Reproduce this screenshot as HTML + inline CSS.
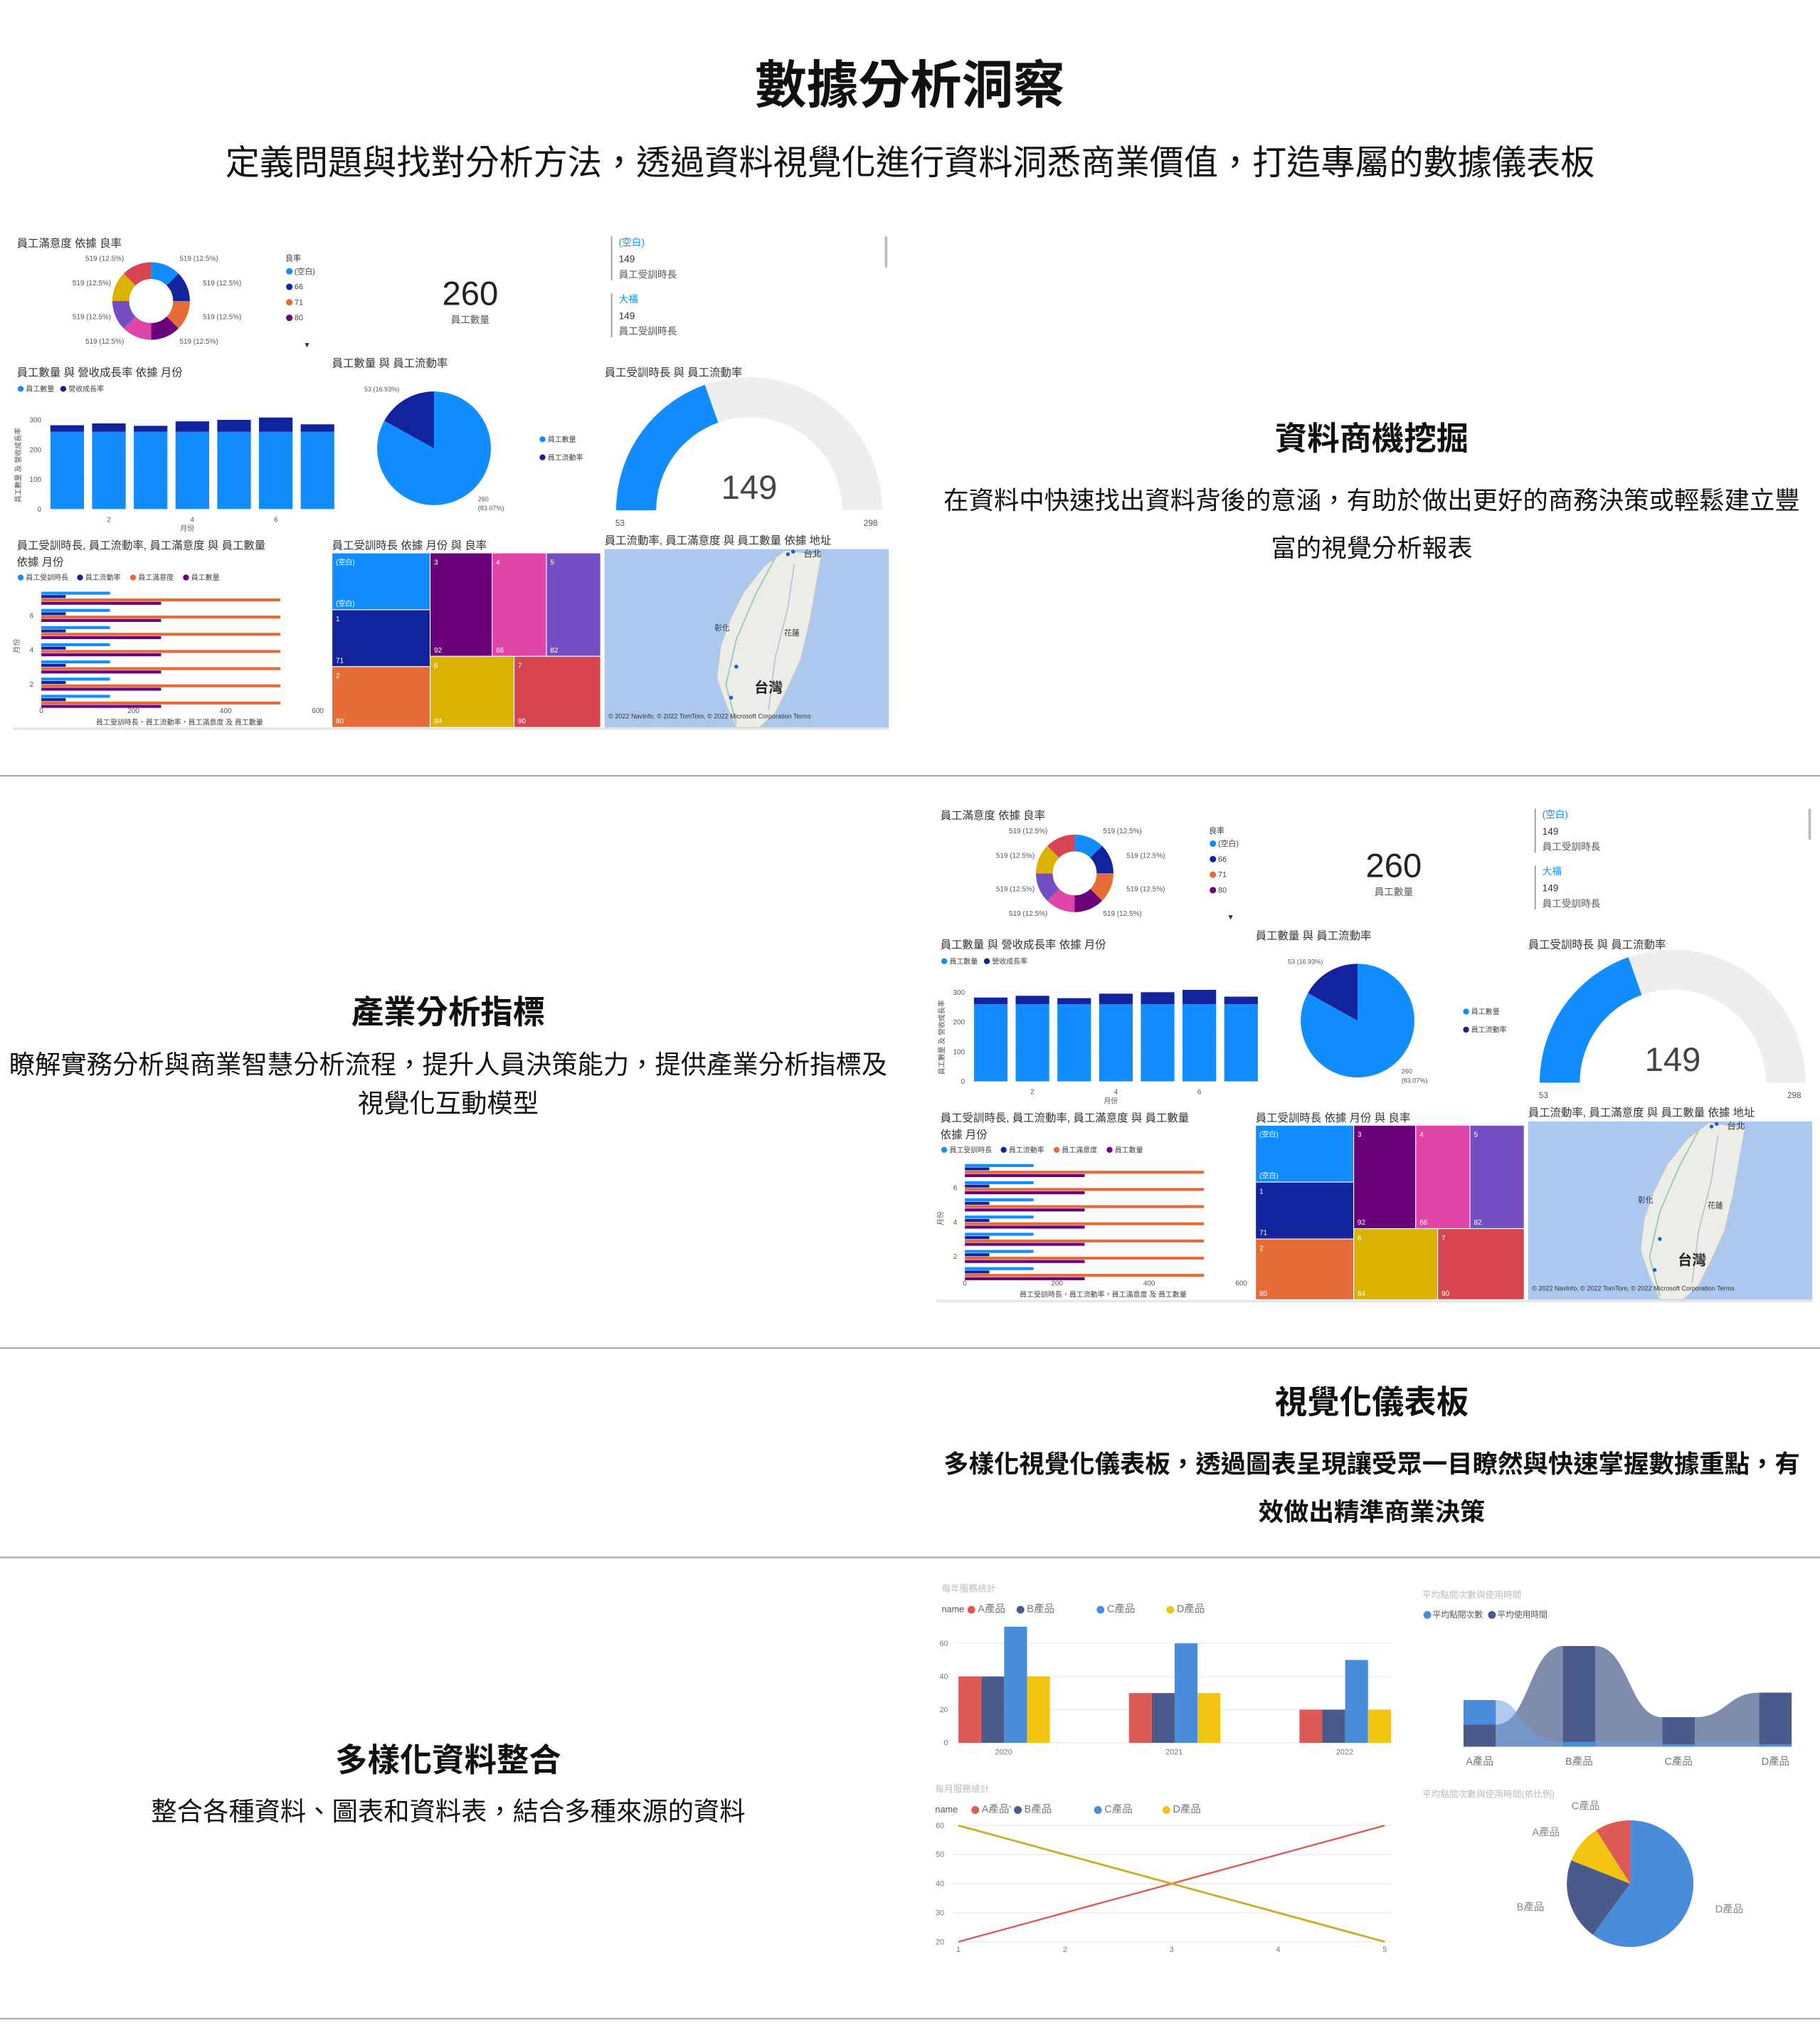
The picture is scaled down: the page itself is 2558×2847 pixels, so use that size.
<!DOCTYPE html>
<html><head><meta charset="utf-8">
<style>
html,body{margin:0;padding:0;background:#fff;overflow:hidden}
body{width:2558px;height:2847px}
#wrap{position:absolute;left:0;top:0;width:1409px;height:1568px;transform:scale(1.81547);transform-origin:0 0;font-family:"Liberation Sans","Noto Sans CJK TC",sans-serif;color:#111}
.t{position:absolute;text-align:center;white-space:nowrap}
.hr{position:absolute;left:0;width:1409px;height:1px;background:#999}
svg text{font-family:"Liberation Sans","Noto Sans CJK TC",sans-serif}
</style></head><body>
<div id="wrap">
<div class="t" style="left:0;width:1409px;top:34px;font-size:40px;font-weight:bold">數據分析洞察</div>
<div class="t" style="left:0;width:1409px;top:104px;font-size:26.5px">定義問題與找對分析方法，透過資料視覺化進行資料洞悉商業價值，打造專屬的數據儀表板</div>

<div class="t" style="left:715px;width:694px;top:320px;font-size:25px;font-weight:bold">資料商機挖掘</div>
<div class="t" style="left:724px;width:676px;top:370px;font-size:19.5px;line-height:37px;white-space:normal">在資料中快速找出資料背後的意涵，有助於做出更好的商務決策或輕鬆建立豐富的視覺分析報表</div>
<div class="hr" style="top:600px"></div>

<div class="t" style="left:0;width:694px;top:764px;font-size:25px;font-weight:bold">產業分析指標</div>
<div class="t" style="left:4px;width:686px;top:810px;font-size:20px;line-height:30px;white-space:normal">瞭解實務分析與商業智慧分析流程，提升人員決策能力，提供產業分析指標及視覺化互動模型</div>
<div class="hr" style="top:1043px"></div>

<div class="t" style="left:715px;width:694px;top:1066px;font-size:25px;font-weight:bold">視覺化儀表板</div>
<div class="t" style="left:724px;width:676px;top:1116px;font-size:19.5px;line-height:37px;font-weight:bold;white-space:normal">多樣化視覺化儀表板，透過圖表呈現讓受眾一目瞭然與快速掌握數據重點，有效做出精準商業決策</div>
<div class="hr" style="top:1205px"></div>

<div class="t" style="left:0;width:694px;top:1343px;font-size:25px;font-weight:bold">多樣化資料整合</div>
<div class="t" style="left:0;width:694px;top:1386px;font-size:20px">整合各種資料、圖表和資料表，結合多種來源的資料</div>
<div class="hr" style="top:1562px"></div>

<svg id="sv" width="1409" height="1568" style="position:absolute;left:0;top:0"></svg>
</div>
<script>
// ---- dashboard data ----
const donutLabels = ["(空白)","66","71","80"];
const donutValues = [519,519,519,519,519,519,519,519];
const barMonths = [1,2,3,4,5,6,7];
const barEmployees = [260,260,260,260,260,260,260];
const barGrowth = [22,28,20,35,40,48,25];
const pieValues = [260,53];
const gaugeMin = 53, gaugeMax = 298, gaugeValue = 149;
const hbarTraining = [149,149,149,149,149,149,149];
const hbarTurnover = [53,53,53,53,53,53,53];
const hbarSatisfaction = [519,519,519,519,519,519,519];
const hbarCount = [260,260,260,260,260,260,260];
const hbarTicks = [0,200,400,600];
// ---- bottom charts data ----
const years = ["2020","2021","2022"];
const prodA = [40,30,20], prodB = [40,30,20], prodC = [70,60,50], prodD = [40,30,20];
const barTicks = [0,20,40,60];
const lineX = [1,2,3,4,5];
const lineA = [20,30,40,50,60];
const lineD = [60,50,40,30,20];
const lineTicks = [20,30,40,50,60];
const sankeyCats = ["A產品","B產品","C產品","D產品"];
const sankeyClicks = [10,2,1,1];
const sankeyTime = [9,41,12,22];
const pieCats = ["D產品","B產品","A產品","C產品"];
const pieShares = [60,21,10,9];

const NS="http://www.w3.org/2000/svg";
const sv=document.getElementById('sv');
function el(tag,a,p){const e=document.createElementNS(NS,tag);for(const k in a)e.setAttribute(k,a[k]);(p||sv).appendChild(e);return e;}
function tx(p,x,y,s,size,fill,anchor,weight){const e=el('text',{x:x,y:y,'font-size':size,fill:fill||'#333','text-anchor':anchor||'start','font-weight':weight||'normal'},p);e.textContent=s;return e;}
function arcPath(cx,cy,ro,ri,a0,a1){
 const r=d=>(d-90)*Math.PI/180;const p=(R,d)=>[cx+R*Math.cos(r(d)),cy+R*Math.sin(r(d))];
 const lg=(a1-a0)>180?1:0;const A=p(ro,a0),B=p(ro,a1);
 if(ri<=0){return `M${cx},${cy}L${A[0]},${A[1]}A${ro},${ro} 0 ${lg} 1 ${B[0]},${B[1]}Z`;}
 const C=p(ri,a1),D=p(ri,a0);
 return `M${A[0]},${A[1]}A${ro},${ro} 0 ${lg} 1 ${B[0]},${B[1]}L${C[0]},${C[1]}A${ri},${ri} 0 ${lg} 0 ${D[0]},${D[1]}Z`;}

function dashboard(ox,oy,idx){
 const g=el('g',{transform:`translate(${ox},${oy})`});
 
 
 tx(g,3,11,"員工滿意度 依據 良率",8.5,'#333');
 const dcol=["#118dff","#12239e","#e66c37","#6b007b","#e044a7","#744ec2","#d9b300","#d64550"];
 const tot=donutValues.reduce((a,b)=>a+b,0);let a=0;
 donutValues.forEach((v,i)=>{const a1=a+v/tot*360;const s=el('path',{d:arcPath(107,53,30,17,a,a1),fill:dcol[i]},g);
  a=a1;});
 [[86,22,'end'],[129,22,'start'],[76,41,'end'],[147,41,'start'],[76,67,'end'],[147,67,'start'],[86,86,'end'],[129,86,'start']].forEach(p=>tx(g,p[0],p[1],"519 (12.5%)",5.5,'#555',p[2]));
 tx(g,211,22,"良率",6,'#333');
 const lc=["#118dff","#12239e","#e66c37","#6b007b"];
 donutLabels.forEach((l,i)=>{el('circle',{cx:214,cy:30+i*12,r:2.5,fill:lc[i]},g);tx(g,218,32+i*12,l,6,'#444');});
 tx(g,226,89,"▾",7,'#333');
 const k=tx(g,354,56,"260",26,'#222','middle');
 tx(g,354,70,"員工數量",7.5,'#555','middle');
 el('rect',{x:463,y:3,width:1,height:34,fill:'#999'},g);el('rect',{x:463,y:47,width:1,height:34,fill:'#999'},g);
 tx(g,469,10,"(空白)",7.5,'#118dff');tx(g,469,23,"149",7.5,'#333');tx(g,469,35,"員工受訓時長",7.5,'#555');
 tx(g,469,54,"大福",7.5,'#118dff');tx(g,469,67,"149",7.5,'#333');tx(g,469,79,"員工受訓時長",7.5,'#555');
 el('rect',{x:675,y:3,width:2,height:24,fill:'#bbb'},g);
 tx(g,3,111,"員工數量 與 營收成長率 依據 月份",8.5,'#333');
 el('circle',{cx:6,cy:121,r:2.3,fill:'#118dff'},g);tx(g,10,123,"員工數量",5.5,'#444');
 el('circle',{cx:39,cy:121,r:2.3,fill:'#12239e'},g);tx(g,43,123,"營收成長率",5.5,'#444');
 const y0=214,yk=23/100;const yc=v=>y0-v*yk;
 [0,100,200,300].forEach(t=>{tx(g,22,yc(t)+2,String(t),5.5,'#555','end');if(t>0)el('line',{x1:27,x2:244,y1:yc(t),y2:yc(t),stroke:'#eee','stroke-dasharray':'1,1'},g);});
 const tl=tx(g,6,180,"員工數量 及 營收成長率",5.5,'#555','middle');tl.setAttribute('transform','rotate(-90 6 180)');
 const bx=i=>29+i*32.3;
 barMonths.forEach((m,i)=>{const b1=el('rect',{x:bx(i),y:yc(barEmployees[i]),width:26,height:barEmployees[i]*yk,fill:'#118dff'},g);
  
  const b2=el('rect',{x:bx(i),y:yc(barEmployees[i]+barGrowth[i]),width:26,height:barGrowth[i]*yk,fill:'#12239e'},g);
  
  if(m%2==0)tx(g,bx(i)+13,224,String(m),5.5,'#555','middle');});
 tx(g,135,231,"月份",5.5,'#555','middle');
 tx(g,247,104,"員工數量 與 員工流動率",8.5,'#333');
 const ps=pieValues[0]+pieValues[1];const da=pieValues[1]/ps*360;
 el('path',{d:arcPath(326,167,44,0,0,360-da-0.001),fill:'#118dff'},g);
 el('path',{d:arcPath(326,167,44,0,360-da,359.999),fill:'#12239e'},g);
 tx(g,272,123,"53 (16.93%)",5,'#555');tx(g,360,208,"260",5,'#555');tx(g,360,215,"(83.07%)",5,'#555');
 el('circle',{cx:410,cy:160,r:2.3,fill:'#118dff'},g);tx(g,414,162,"員工數量",5.5,'#444');
 el('circle',{cx:410,cy:174,r:2.3,fill:'#12239e'},g);tx(g,414,176,"員工流動率",5.5,'#444');
 tx(g,458,111,"員工受訓時長 與 員工流動率",8.5,'#333');
 el('path',{d:arcPath(570,215,103,72,270,450),fill:'#eeeeee'},g);
 const ga=270+(gaugeValue-gaugeMin)/(gaugeMax-gaugeMin)*180;
 const gp=el('path',{d:arcPath(570,215,103,72,270,ga),fill:'#118dff'},g);
 tx(g,570,206,String(gaugeValue),26,'#444','middle');
 tx(g,470,227,String(gaugeMin),6.5,'#555','middle');tx(g,664,227,String(gaugeMax),6.5,'#555','middle');
 tx(g,3,245,"員工受訓時長, 員工流動率, 員工滿意度 與 員工數量",8.5,'#333');
 tx(g,3,258,"依據 月份",8.5,'#333');
 [["#118dff","員工受訓時長",3],["#12239e","員工流動率",49],["#e66c37","員工滿意度",90],["#6b007b","員工數量",131]].forEach(l=>{el('circle',{cx:l[2]+3,cy:267,r:2.3,fill:l[0]},g);tx(g,l[2]+7,269,l[1],5.5,'#444');});
 const hx=v=>22+v*(214/600);
 hbarTicks.forEach(t=>tx(g,hx(t),372,String(t),5.5,'#555','middle'));
 const series=[[hbarTraining,'#118dff'],[hbarTurnover,'#12239e'],[hbarSatisfaction,'#e66c37'],[hbarCount,'#6b007b']];
 for(let r=0;r<7;r++){series.forEach((s,j)=>{const b=el('rect',{x:hx(0),y:278+r*13.3+j*2.6,width:hx(s[0][r])-hx(0),height:2.3,fill:s[1]},g);
  });}
 [[6,1],[4,3],[2,5]].forEach(p=>tx(g,16,278+p[1]*13.3+7,String(p[0]),5.5,'#555','end'));
 const ml=tx(g,5,320,"月份",5.5,'#555','middle');ml.setAttribute('transform','rotate(-90 5 320)');
 tx(g,129,381,"員工受訓時長，員工流動率，員工滿意度 及 員工數量",5.5,'#444','middle');
 el('rect',{x:0,y:383,width:678,height:2,fill:'#e6e6e6'},g);
 tx(g,247,245,"員工受訓時長 依據 月份 與 良率",8.5,'#333');
 const tm=[[247,248,76,44,'#118dff','(空白)','(空白)'],[247,292,76,44,'#12239e','1','71'],[247,336,76,47,'#e66c37','2','80'],
  [323,248,48,80,'#6b007b','3','92'],[371,248,42,80,'#e044a7','4','66'],[413,248,42,80,'#744ec2','5','82'],
  [323,328,65,55,'#d9b300','6','84'],[388,328,67,55,'#d64550','7','90']];
 tm.forEach(c=>{const r=el('rect',{x:c[0],y:c[1],width:c[2],height:c[3],fill:c[4],stroke:'#fff','stroke-width':0.6},g);
  
  tx(g,c[0]+3,c[1]+9,c[5],5.5,'#fff');tx(g,c[0]+3,c[1]+c[3]-3,c[6],5.5,'#fff');});
 tx(g,458,241,"員工流動率, 員工滿意度 與 員工數量 依據 地址",8.5,'#333');
 const mp=el('rect',{x:458,y:245,width:220,height:138,fill:'#adc8ef'},g);
 el('path',{d:'M598,246 L626,250 L622,272 L617,300 L610,330 L600,352 L590,372 L578,383 L560,383 L552,365 L545,345 L548,320 L556,298 L566,278 L582,258 Z',fill:'#ecece8',stroke:'#c9c9c0','stroke-width':0.6},g);
 el('path',{d:'M590,252 L575,280 L560,315 L552,350 L560,380',fill:'none',stroke:'#9fc7a8','stroke-width':1},g);
 el('path',{d:'M605,256 L600,290 L590,330 L585,370',fill:'none',stroke:'#c8b0c8','stroke-width':0.8},g);
 tx(g,612,251,"台北",7,'#333');tx(g,543,308,"彰化",6,'#333');tx(g,597,312,"花蓮",6,'#333');
 tx(g,585,356,"台灣",11,'#222','middle','bold');
 [[604,247],[600,249],[560,336],[556,360]].forEach(p=>el('circle',{cx:p[0],cy:p[1],r:1.5,fill:'#1a5fd0'},g));
 tx(g,461,376,"© 2022 NavInfo, © 2022 TomTom, © 2022 Microsoft Corporation  Terms",5,'#333');
}
dashboard(10,180,1);
dashboard(725,623,2);

(function(){
 const g=el('g',{});
 tx(g,729,1232,"每年服務統計",7,'#bbb');
 tx(g,729,1248,"name",7,'#555');
 [["#dd5a56","A產品",752],["#4a5a8a","B產品",790],["#4a8cdc","C產品",852],["#f1c40f","D產品",906]].forEach(l=>{el('circle',{cx:l[2],cy:1246,r:3,fill:l[0]},g);tx(g,l[2]+5,1248,l[1],8,'#777');});
 const y=v=>1349-v*(77/60);
 barTicks.forEach(t=>{tx(g,734,y(t)+2,String(t),6,'#777','end');el('line',{x1:740,x2:1077,y1:y(t),y2:y(t),stroke:'#eee'},g);});
 const cols=['#dd5a56','#4a5a8a','#4a8cdc','#f1c40f'];const sers=[prodA,prodB,prodC,prodD];
 years.forEach((yr,i)=>{const gx=742+i*132;sers.forEach((s,j)=>{const b=el('rect',{x:gx+j*17.7,y:y(s[i]),width:17.7,height:1349-y(s[i]),fill:cols[j]},g);
  });
  tx(g,gx+35,1358,yr,6,'#777','middle');});
})();
(function(){
 const g=el('g',{});
 tx(g,1101,1237,"平均點閱次數與使用時間",7,'#bbb');
 el('circle',{cx:1105,cy:1250,r:3,fill:'#4a8cdc'},g);tx(g,1109,1252,"平均點閱次數",6.5,'#555');
 el('circle',{cx:1155,cy:1250,r:3,fill:'#4a5a8a'},g);tx(g,1159,1252,"平均使用時間",6.5,'#555');
 const base=1352,k=1.9,xs=[1133,1210,1287,1362],w=25;
 let p=`M${xs[0]+w},${base-sankeyTime[0]*k}`;
 for(let i=1;i<4;i++){const xa=xs[i-1]+w,xb=xs[i];const ya=base-sankeyTime[i-1]*k,yb=base-sankeyTime[i]*k;
  p+=` C${(xa+xb)/2},${ya} ${(xa+xb)/2},${yb} ${xb},${yb} L${xb+w},${yb}`;}
 p+=` L${xs[3]+w},${base} L${xs[0]+w},${base} Z`;
 el('path',{d:p,fill:'#7f8cab'},g);
 el('path',{d:`M${xs[0]+w},${base-(sankeyTime[0]+sankeyClicks[0])*k} C1180,${base-(sankeyTime[0]+sankeyClicks[0])*k} 1175,${base-4} ${xs[1]},${base-4} L${xs[3]+w},${base-4} L${xs[3]+w},${base} L${xs[0]+w},${base} Z`,fill:'#6f9ee0',opacity:0.55},g);
 sankeyCats.forEach((c,i)=>{const t=el('rect',{x:xs[i],y:base-sankeyTime[i]*k,width:w,height:sankeyTime[i]*k,fill:'#4a5a8a'},g);
  
  const cy=i==0?base-(sankeyTime[i]+sankeyClicks[i])*k:base-sankeyClicks[i]*k;
  const c2=el('rect',{x:xs[i],y:cy,width:w,height:sankeyClicks[i]*k,fill:'#4a8cdc'},g);
  
  tx(g,xs[i]+w/2,1366,c,8,'#777','middle');});
})();
(function(){
 const g=el('g',{});
 tx(g,724,1387,"每月服務統計",7,'#bbb');
 tx(g,724,1403,"name",7,'#555');
 [["#dd5a56","A產品'",755],["#4a5a8a","B產品",788],["#4a8cdc","C產品",850],["#f1c40f","D產品",903]].forEach(l=>{el('circle',{cx:l[2],cy:1401,r:3,fill:l[0]},g);tx(g,l[2]+5,1403,l[1],8,'#777');});
 const x=v=>742+(v-1)*(330/4),y=v=>1503-(v-20)*(90/40);
 lineTicks.forEach(t=>{tx(g,731,y(t)+2,String(t),6,'#777','end');el('line',{x1:738,x2:1077,y1:y(t),y2:y(t),stroke:'#eee'},g);});
 lineX.forEach(v=>tx(g,x(v),1511,String(v),6,'#777','middle'));
 const la=el('polyline',{points:lineX.map((v,i)=>x(v)+','+y(lineA[i])).join(' '),fill:'none',stroke:'#dd5a56','stroke-width':1.3},g);
 
 const ld=el('polyline',{points:lineX.map((v,i)=>x(v)+','+y(lineD[i])).join(' '),fill:'none',stroke:'#c9b02a','stroke-width':1.6},g);
 
})();
(function(){
 const g=el('g',{});
 tx(g,1101,1391,"平均點閱次數與使用時間(依比例)",7,'#bbb');
 const cols={"D產品":'#4a8cdc',"B產品":'#4a5a8a',"A產品":'#f1c40f',"C產品":'#dd5a56'};
 const tot=pieShares.reduce((a,b)=>a+b,0);let a=0;
 const cx=1262,cy=1458,r=49;
 pieCats.forEach((c,i)=>{const a1=a+pieShares[i]/tot*360;const s=el('path',{d:arcPath(cx,cy,r,0,a,a1),fill:cols[c]},g);
  
  const m=(a+a1)/2*Math.PI/180;const lx=cx+(r+14)*Math.sin(m),ly=cy-(r+14)*Math.cos(m);
  tx(g,lx+(Math.sin(m)>0?6:-6),ly+3,c,8,'#888',Math.sin(m)>0?'start':'end');a=a1;});
})();
</script>
</body></html>
